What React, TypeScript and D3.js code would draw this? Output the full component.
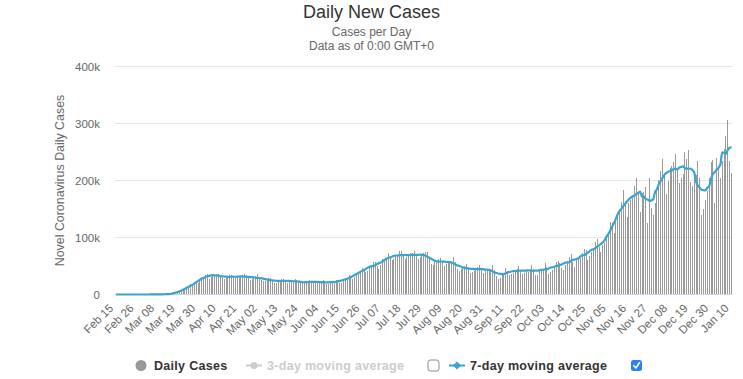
import React from "react";
import * as d3 from "d3";

// ---------------- data (thousands of cases per day) ----------------
const START_DATE = "2020-02-15";

const febCases = [0, 0, 0, 0, 0, 0, 0.02, 0, 0, 0, 0.01, 0, 0, 0.01, 0.01];
const marCases = [0.01, 0.02, 0.02, 0.03, 0.07, 0.05, 0.14, 0.12, 0.07, 0.38, 0.32, 0.38, 0.52, 0.55, 0.77, 1.13, 1.79, 1.36, 5.89, 5.42, 6.39, 7.79, 10.57, 9.89, 12.04, 18.06, 17.82, 19.82, 19.41, 20.92, 26.37];
const aprCases = [28.5, 31.5, 33.5, 35.5, 28.0, 31.5, 35.0, 34.5, 36.0, 36.5, 32.0, 29.5, 28.0, 29.0, 32.0, 33.5, 34.5, 31.5, 28.5, 30.0, 28.5, 31.5, 34.0, 36.5, 34.0, 28.5, 26.0, 27.0, 29.5, 32.5];
const mayCases = [35.5, 29.5, 26.0, 24.5, 24.0, 26.5, 29.0, 28.5, 26.0, 21.0, 20.5, 22.5, 22.5, 27.5, 26.5, 25.5, 20.5, 22.0, 21.5, 23.0, 28.0, 25.0, 23.0, 20.5, 19.5, 19.5, 20.5, 22.5, 25.0, 24.5, 21.0];
const junCases = [20.5, 21.0, 20.5, 22.0, 25.0, 23.5, 19.0, 18.5, 19.5, 21.5, 23.0, 26.0, 25.5, 21.0, 20.5, 24.0, 26.5, 28.5, 33.5, 32.5, 27.0, 31.0, 36.5, 38.5, 41.0, 46.5, 44.5, 40.0, 42.0, 47.5];
const julCases = [52, 57, 57.5, 50, 45, 51, 62, 62.5, 64, 73, 66.5, 60, 62.5, 67.5, 70, 76, 76.5, 67, 62, 65, 67, 72, 73, 76.5, 70, 62, 65, 69, 72, 74, 75];
const augCases = [66, 54, 52, 58, 59, 62, 64, 59, 50, 54, 57, 58.5, 56, 65, 57, 45, 42, 45, 48, 50, 53, 48, 38.5, 39.5, 41.5, 45.5, 48.5, 51, 47, 38, 40.5];
const sepCases = [43, 41, 45, 51, 43.5, 32, 28, 29, 36, 38, 46.5, 41, 34.5, 36.5, 38.5, 41, 45, 49.5, 43.5, 36, 38.5, 41.5, 39.5, 45, 51, 44.5, 34.5, 35, 42, 41.5];
const octCases = [45.5, 54.5, 49, 36.5, 40, 43.5, 50.5, 57, 58.5, 55, 46.5, 43, 52, 59.5, 65, 70.5, 57, 48.5, 63.5, 61.5, 63.5, 73, 80, 78, 61, 67, 75, 80.5, 92, 97, 84];
const novCases = [74, 86, 90, 100, 108, 128, 125, 108, 128, 138, 143, 162, 184, 164, 136, 160, 165, 172, 190, 204, 180, 145, 178, 180, 188, 125, 205, 152, 139, 161];
const decCases = [186, 201, 217, 237, 214, 177, 200, 222, 226, 232, 246, 220, 195, 205, 212, 250, 238, 253, 198, 190, 205, 210, 235, 205, 140, 150, 165, 182, 205, 232, 236];
const janCases = [160, 240, 225, 205, 235, 255, 278, 307, 235, 213];

const dailyCasesK = [
  ...febCases, ...marCases, ...aprCases, ...mayCases, ...junCases, ...julCases,
  ...augCases, ...sepCases, ...octCases, ...novCases, ...decCases, ...janCases,
];

const xTickLabels = [
  "Feb 15", "Feb 26", "Mar 08", "Mar 19", "Mar 30", "Apr 10", "Apr 21", "May 02",
  "May 13", "May 24", "Jun 04", "Jun 15", "Jun 26", "Jul 07", "Jul 18", "Jul 29",
  "Aug 09", "Aug 20", "Aug 31", "Sep 11", "Sep 22", "Oct 03", "Oct 14", "Oct 25",
  "Nov 05", "Nov 16", "Nov 27", "Dec 08", "Dec 19", "Dec 30", "Jan 10",
];
const yTickValues = [0, 100, 200, 300, 400];
const yTickLabels = ["0", "100k", "200k", "300k", "400k"];

// ---------------- layout ----------------
const W = 743;
const H = 379;
const PLOT = { left: 115, right: 732.5, top: 66.5, bottom: 294.5 };
const FONT = '"Lucida Grande", "Lucida Sans Unicode", "Liberation Sans", Arial, Helvetica, sans-serif';
const LINE_COLOR = "#3aa3cf";
const BAR_COLOR = "#999999";

export default function App() {
  const n = dailyCasesK.length;
  const start = d3.timeParse("%Y-%m-%d")(START_DATE) as Date;
  const fmt = d3.timeFormat("%b %d");
  const categories = d3.range(n).map((i) => fmt(d3.timeDay.offset(start, i)));

  const x = d3.scaleBand<number>().domain(d3.range(n)).range([PLOT.left, PLOT.right]).padding(0);
  const y = d3.scaleLinear().domain([0, 400]).range([PLOT.bottom, PLOT.top]);
  const cx = (i: number) => (x(i) as number) + x.bandwidth() / 2;

  // 7-day moving average of the daily series
  const movingAvg = dailyCasesK.map((_, i) => {
    const lo = Math.max(0, i - 3);
    const hi = Math.min(n - 1, i + 3);
    return d3.mean(dailyCasesK.slice(lo, hi + 1)) as number;
  });
  const linePath = d3
    .line<number>()
    .x((_, i) => cx(i))
    .y((d) => y(d))
    .curve(d3.curveMonotoneX)(movingAvg) as string;

  const tickIdx = xTickLabels.map((lab) => categories.indexOf(lab));

  return (
    <svg
      width={W}
      height={H}
      style={{ position: "absolute", left: 0, top: 0, background: "#fff" }}
      fontFamily={FONT}
    >
      {/* titles */}
      <text x={W / 2} y={18} textAnchor="middle" fontSize={18} fill="#333">
        Daily New Cases
      </text>
      <text x={W / 2} y={36} textAnchor="middle" fontSize={12} fill="#666">
        Cases per Day
      </text>
      <text x={W / 2} y={50} textAnchor="middle" fontSize={12} fill="#666">
        Data as of 0:00 GMT+0
      </text>

      {/* grid */}
      {yTickValues.map((v, k) => (
        <g key={"g" + k}>
          {v !== 0 && (
            <line x1={PLOT.left} x2={PLOT.right} y1={y(v)} y2={y(v)} stroke="#e6e6e6" strokeWidth={1} />
          )}
          <text x={100} y={y(v) + 4} textAnchor="end" fontSize={11.5} fill="#666">
            {yTickLabels[k]}
          </text>
        </g>
      ))}

      {/* y axis title */}
      <text
        transform={`translate(64,${(PLOT.top + PLOT.bottom) / 2}) rotate(-90)`}
        textAnchor="middle"
        fontSize={12.4}
        fill="#666"
      >
        Novel Coronavirus Daily Cases
      </text>

      {/* bars */}
      <g shapeRendering="crispEdges">
        {dailyCasesK.map((v, i) => (
          <rect
            key={"b" + i}
            x={Math.floor(cx(i))}
            width={1}
            y={y(v)}
            height={Math.max(0, PLOT.bottom - y(v))}
            fill={BAR_COLOR}
          />
        ))}
      </g>

      {/* x axis line */}
      <line x1={PLOT.left} x2={PLOT.right} y1={PLOT.bottom} y2={PLOT.bottom} stroke="#ccd6eb" strokeWidth={1} />

      {/* moving average line */}
      <path d={linePath} fill="none" stroke={LINE_COLOR} strokeWidth={2.2} strokeLinejoin="round" />

      {/* x tick labels */}
      {tickIdx.map((i, k) => (
        <text
          key={"xt" + k}
          transform={`translate(${cx(i) - 2},${309}) rotate(-45)`}
          textAnchor="end"
          fontSize={11.5}
          fill="#666"
        >
          {xTickLabels[k]}
        </text>
      ))}

      {/* legend */}
      <g fontSize={12.5} fontWeight="bold" letterSpacing={0.3}>
        <circle cx={141} cy={365.5} r={5.5} fill={BAR_COLOR} />
        <text x={154} y={369.8} fill="#333">Daily Cases</text>

        <line x1={246} x2={262} y1={365.5} y2={365.5} stroke="#cccccc" strokeWidth={2} />
        <circle cx={254} cy={365.5} r={3.5} fill="#cccccc" />
        <text x={267} y={369.8} fill="#cccccc">3-day moving average</text>
        <rect x={428} y={360} width={11} height={11} rx={2.5} fill="#fff" stroke="#8a8a8a" strokeWidth={1} />

        <line x1={449} x2={465} y1={365.5} y2={365.5} stroke={LINE_COLOR} strokeWidth={2} />
        <path d="M457,361.5 L461,365.5 L457,369.5 L453,365.5 Z" fill={LINE_COLOR} />
        <text x={470} y={369.8} fill="#333">7-day moving average</text>
        <rect x={631} y={360} width={11} height={11} rx={2.5} fill="#2f7ff5" />
        <path d="M633.8,365.8 L635.9,368 L639.4,362.8" fill="none" stroke="#fff" strokeWidth={1.6} strokeLinecap="round" strokeLinejoin="round" />
      </g>
    </svg>
  );
}
